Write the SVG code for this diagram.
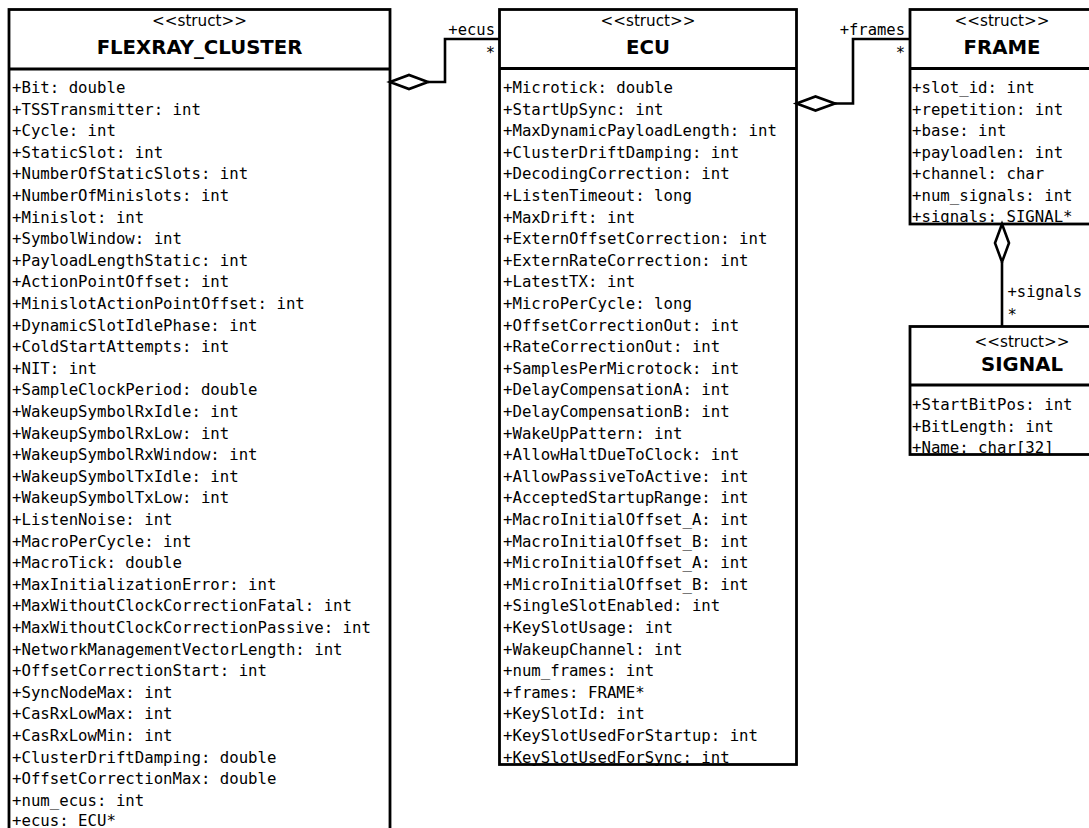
<svg xmlns="http://www.w3.org/2000/svg" width="1089" height="828" viewBox="0 0 1089 828">
  <style>
    .box { fill: #fff; stroke: #000; stroke-width: 2.8; }
    .div { stroke: #000; stroke-width: 2.8; }
    .conn { fill: none; stroke: #000; stroke-width: 2.6; }
    .dia { fill: #fff; stroke: #000; stroke-width: 2.6; stroke-linejoin: miter; }
    .stereo { font-family: "DejaVu Sans", sans-serif; font-size: 15.2px; text-anchor: middle; fill: #000; }
    .title { font-family: "DejaVu Sans", sans-serif; font-weight: bold; font-size: 19.7px; text-anchor: middle; fill: #000; }
    .attr { font-family: "DejaVu Sans Mono", monospace; font-size: 15.7px; fill: #000; }
    .role { font-family: "DejaVu Sans Mono", monospace; font-size: 15.5px; fill: #000; }
    .end { text-anchor: end; }
  </style>
  <rect width="1089" height="828" fill="#fff"/>

  <!-- FLEXRAY_CLUSTER -->
  <g id="flexray_cluster">
    <rect class="box" x="9" y="9.5" width="381" height="840"/>
    <line class="div" x1="9" y1="69" x2="390" y2="69"/>
    <text class="stereo" x="199.5" y="26">&lt;&lt;struct&gt;&gt;</text>
    <text class="title" x="199.5" y="54">FLEXRAY_CLUSTER</text>
    <g class="attr">
      <text x="12" y="93">+Bit: double</text>
      <text x="12" y="114.6">+TSSTransmitter: int</text>
      <text x="12" y="136.2">+Cycle: int</text>
      <text x="12" y="157.8">+StaticSlot: int</text>
      <text x="12" y="179.4">+NumberOfStaticSlots: int</text>
      <text x="12" y="201">+NumberOfMinislots: int</text>
      <text x="12" y="222.6">+Minislot: int</text>
      <text x="12" y="244.2">+SymbolWindow: int</text>
      <text x="12" y="265.8">+PayloadLengthStatic: int</text>
      <text x="12" y="287.4">+ActionPointOffset: int</text>
      <text x="12" y="309">+MinislotActionPointOffset: int</text>
      <text x="12" y="330.6">+DynamicSlotIdlePhase: int</text>
      <text x="12" y="352.2">+ColdStartAttempts: int</text>
      <text x="12" y="373.8">+NIT: int</text>
      <text x="12" y="395.4">+SampleClockPeriod: double</text>
      <text x="12" y="417">+WakeupSymbolRxIdle: int</text>
      <text x="12" y="438.6">+WakeupSymbolRxLow: int</text>
      <text x="12" y="460.2">+WakeupSymbolRxWindow: int</text>
      <text x="12" y="481.8">+WakeupSymbolTxIdle: int</text>
      <text x="12" y="503.4">+WakeupSymbolTxLow: int</text>
      <text x="12" y="525">+ListenNoise: int</text>
      <text x="12" y="546.6">+MacroPerCycle: int</text>
      <text x="12" y="568.2">+MacroTick: double</text>
      <text x="12" y="589.8">+MaxInitializationError: int</text>
      <text x="12" y="611.4">+MaxWithoutClockCorrectionFatal: int</text>
      <text x="12" y="633">+MaxWithoutClockCorrectionPassive: int</text>
      <text x="12" y="654.6">+NetworkManagementVectorLength: int</text>
      <text x="12" y="676.2">+OffsetCorrectionStart: int</text>
      <text x="12" y="697.8">+SyncNodeMax: int</text>
      <text x="12" y="719.4">+CasRxLowMax: int</text>
      <text x="12" y="741">+CasRxLowMin: int</text>
      <text x="12" y="762.6">+ClusterDriftDamping: double</text>
      <text x="12" y="784.2">+OffsetCorrectionMax: double</text>
      <text x="12" y="805.8">+num_ecus: int</text>
      <text x="12" y="826">+ecus: ECU*</text>
    </g>
  </g>

  <!-- ECU -->
  <g id="ecu">
    <rect class="box" x="499.5" y="9.5" width="297" height="755"/>
    <line class="div" x1="499.5" y1="68.5" x2="796.5" y2="68.5"/>
    <text class="stereo" x="648" y="26">&lt;&lt;struct&gt;&gt;</text>
    <text class="title" x="648" y="54">ECU</text>
    <g class="attr">
      <text x="503" y="93">+Microtick: double</text>
      <text x="503" y="114.6">+StartUpSync: int</text>
      <text x="503" y="136.2">+MaxDynamicPayloadLength: int</text>
      <text x="503" y="157.8">+ClusterDriftDamping: int</text>
      <text x="503" y="179.4">+DecodingCorrection: int</text>
      <text x="503" y="201">+ListenTimeout: long</text>
      <text x="503" y="222.6">+MaxDrift: int</text>
      <text x="503" y="244.2">+ExternOffsetCorrection: int</text>
      <text x="503" y="265.8">+ExternRateCorrection: int</text>
      <text x="503" y="287.4">+LatestTX: int</text>
      <text x="503" y="309">+MicroPerCycle: long</text>
      <text x="503" y="330.6">+OffsetCorrectionOut: int</text>
      <text x="503" y="352.2">+RateCorrectionOut: int</text>
      <text x="503" y="373.8">+SamplesPerMicrotock: int</text>
      <text x="503" y="395.4">+DelayCompensationA: int</text>
      <text x="503" y="417">+DelayCompensationB: int</text>
      <text x="503" y="438.6">+WakeUpPattern: int</text>
      <text x="503" y="460.2">+AllowHaltDueToClock: int</text>
      <text x="503" y="481.8">+AllowPassiveToActive: int</text>
      <text x="503" y="503.4">+AcceptedStartupRange: int</text>
      <text x="503" y="525">+MacroInitialOffset_A: int</text>
      <text x="503" y="546.6">+MacroInitialOffset_B: int</text>
      <text x="503" y="568.2">+MicroInitialOffset_A: int</text>
      <text x="503" y="589.8">+MicroInitialOffset_B: int</text>
      <text x="503" y="611.4">+SingleSlotEnabled: int</text>
      <text x="503" y="633">+KeySlotUsage: int</text>
      <text x="503" y="654.6">+WakeupChannel: int</text>
      <text x="503" y="676.2">+num_frames: int</text>
      <text x="503" y="697.8">+frames: FRAME*</text>
      <text x="503" y="719.4">+KeySlotId: int</text>
      <text x="503" y="741">+KeySlotUsedForStartup: int</text>
      <text x="503" y="762.6">+KeySlotUsedForSync: int</text>
    </g>
  </g>

  <!-- FRAME -->
  <g id="frame">
    <rect class="box" x="910" y="9.5" width="185" height="214.5"/>
    <line class="div" x1="910" y1="68.5" x2="1095" y2="68.5"/>
    <text class="stereo" x="1002" y="26">&lt;&lt;struct&gt;&gt;</text>
    <text class="title" x="1002" y="54">FRAME</text>
    <g class="attr">
      <text x="912" y="93">+slot_id: int</text>
      <text x="912" y="114.5">+repetition: int</text>
      <text x="912" y="136">+base: int</text>
      <text x="912" y="157.5">+payloadlen: int</text>
      <text x="912" y="179">+channel: char</text>
      <text x="912" y="200.5">+num_signals: int</text>
      <text x="912" y="222">+signals: SIGNAL*</text>
    </g>
  </g>

  <!-- SIGNAL -->
  <g id="signal">
    <rect class="box" x="910" y="326.5" width="226" height="128"/>
    <line class="div" x1="910" y1="385" x2="1136" y2="385"/>
    <text class="stereo" x="1022" y="347">&lt;&lt;struct&gt;&gt;</text>
    <text class="title" x="1022" y="370.5">SIGNAL</text>
    <g class="attr">
      <text x="912" y="410">+StartBitPos: int</text>
      <text x="912" y="431.6">+BitLength: int</text>
      <text x="912" y="453">+Name: char[32]</text>
    </g>
  </g>

  <!-- aggregation connectors -->
  <g id="connectors">
    <g id="cluster_ecus">
      <polyline class="conn" points="428,82 445,82 445,39 499.5,39"/>
      <polygon class="dia" points="390,82 409,75 428,82 409,89"/>
      <text class="role end" x="495" y="35">+ecus</text>
      <text class="role end" x="495" y="58">*</text>
    </g>
    <g id="ecu_frames">
      <polyline class="conn" points="835,103.5 853,103.5 853,39 910,39"/>
      <polygon class="dia" points="796.5,103.5 815.5,96.5 835,103.5 815.5,110.5"/>
      <text class="role end" x="905" y="35">+frames</text>
      <text class="role end" x="905" y="58">*</text>
    </g>
    <g id="frame_signals">
      <line class="conn" x1="1002" y1="262" x2="1002" y2="326.5"/>
      <polygon class="dia" points="1002,224 1009,243 1002,262 995,243"/>
      <text class="role" x="1007.5" y="297">+signals</text>
      <text class="role" x="1007.5" y="320">*</text>
    </g>
  </g>
</svg>
